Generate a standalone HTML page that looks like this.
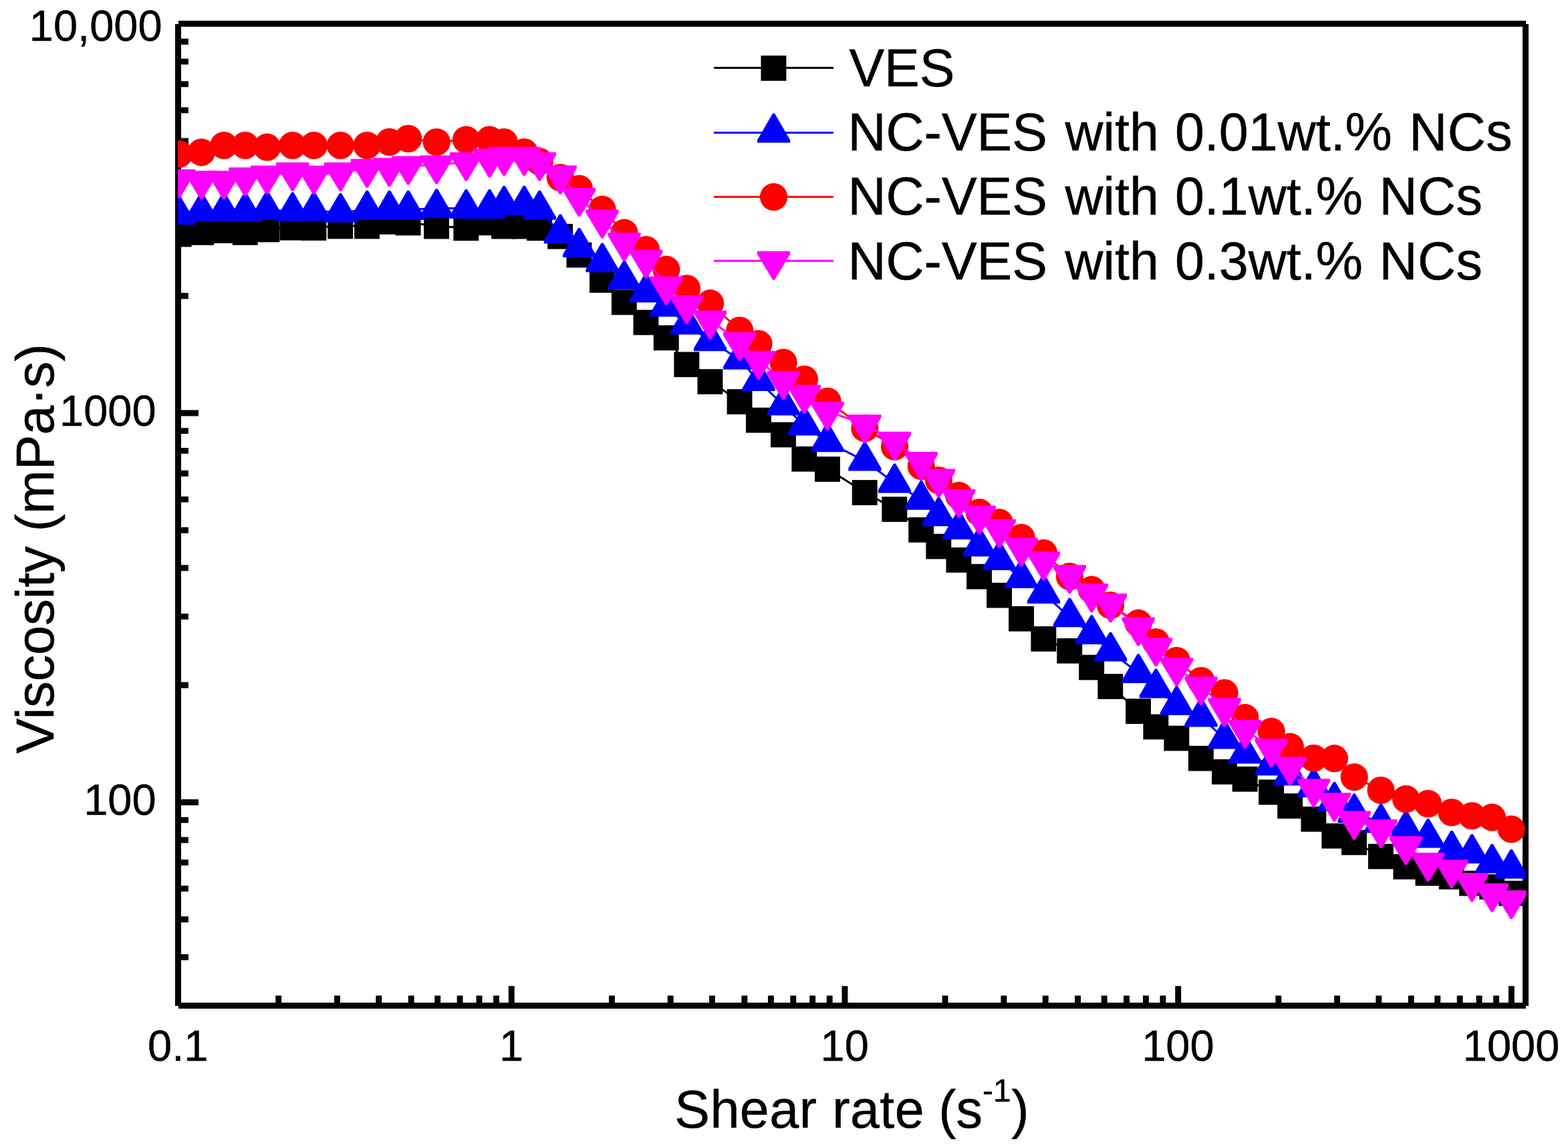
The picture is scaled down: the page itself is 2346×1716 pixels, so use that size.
<!DOCTYPE html>
<html lang="en"><head><meta charset="utf-8"><title>Viscosity vs shear rate</title>
<style>html,body{margin:0;padding:0;background:#fff}body{width:2346px;height:1716px;overflow:hidden}svg{display:block}text{font-family:'Liberation Sans', sans-serif;fill:#000}</style>
</head><body>
<svg width="2346" height="1716" viewBox="0 0 2346 1716" role="img" aria-label="Viscosity versus shear rate">
<rect width="2346" height="1716" fill="#fff"/>
<defs><clipPath id="plot"><rect x="266" y="35.7" width="2017.4" height="1469"/></clipPath></defs>
<g stroke="#000" stroke-width="8.8" fill="none" shape-rendering="crispEdges">
<path d="M266.6 35.7V1504.7 M2282.7 35.7V1504.7 M266.6 35.7H2282.7 M266.6 1504.7H2282.7"/>
</g>
<path d="M416.7 1504.7V1489.4M504.5 1504.7V1489.4M566.8 1504.7V1489.4M615.2 1504.7V1489.4M654.7 1504.7V1489.4M688.1 1504.7V1489.4M717 1504.7V1489.4M742.5 1504.7V1489.4M765.3 1504.7V1475.3M915.4 1504.7V1489.4M1003.2 1504.7V1489.4M1065.5 1504.7V1489.4M1113.9 1504.7V1489.4M1153.4 1504.7V1489.4M1186.8 1504.7V1489.4M1215.7 1504.7V1489.4M1241.2 1504.7V1489.4M1264 1504.7V1475.3M1414.1 1504.7V1489.4M1501.9 1504.7V1489.4M1564.2 1504.7V1489.4M1612.6 1504.7V1489.4M1652.1 1504.7V1489.4M1685.5 1504.7V1489.4M1714.4 1504.7V1489.4M1739.9 1504.7V1489.4M1762.7 1504.7V1475.3M1912.8 1504.7V1489.4M2000.6 1504.7V1489.4M2062.9 1504.7V1489.4M2111.3 1504.7V1489.4M2150.8 1504.7V1489.4M2184.2 1504.7V1489.4M2213.1 1504.7V1489.4M2238.6 1504.7V1489.4M2261.4 1504.7V1475.3M266.6 1432H281.9M266.6 1375.5H281.9M266.6 1329.4H281.9M266.6 1290.4H281.9M266.6 1256.7H281.9M266.6 1226.9H281.9M266.6 1200.2H297M266.6 1025H281.9M266.6 922.4H281.9M266.6 849.7H281.9M266.6 793.3H281.9M266.6 747.1H281.9M266.6 708.2H281.9M266.6 674.4H281.9M266.6 644.6H281.9M266.6 618H297M266.6 442.7H281.9M266.6 340.2H281.9M266.6 267.4H281.9M266.6 211H281.9M266.6 164.9H281.9M266.6 125.9H281.9M266.6 92.1H281.9M266.6 62.3H281.9" stroke="#000" stroke-width="8.9" fill="none"/>
<g font-size="65" stroke="#000" stroke-width="0.5">
<text x="266.3" y="1586.8" text-anchor="middle">0.1</text>
<text x="765" y="1586.8" text-anchor="middle">1</text>
<text x="1263.7" y="1586.8" text-anchor="middle">10</text>
<text x="1762.4" y="1586.8" text-anchor="middle">100</text>
<text x="2261.1" y="1586.8" text-anchor="middle">1000</text>
<text x="242.6" y="60.8" text-anchor="end">10,000</text>
<text x="233.6" y="636.8" text-anchor="end">1000</text>
<text x="233.6" y="1218.7" text-anchor="end">100</text>
</g>
<g font-size="79" stroke="#000" stroke-width="0.5">
<text y="1687"><tspan x="1009.2" letter-spacing="0.5">Shear</tspan> <tspan x="1245.3" letter-spacing="0.4">rate</tspan> <tspan x="1404.2" letter-spacing="0">(s</tspan><tspan x="1470.1" dy="-39.5" font-size="48">-1</tspan><tspan x="1513.2" dy="39.5">)</tspan></text>
<text transform="translate(80.2 821) rotate(-90)" text-anchor="middle">Viscosity (mPa·s)</text>
</g>
<g clip-path="url(#plot)">
<g fill="#000"><polyline points="267.8,350.1 301.4,347.4 335,344.6 366.9,347.4 399.6,343 437.7,340.3 469.6,340.6 509.4,338.1 549.2,338.1 582.6,331.4 610.8,333 653.2,338.2 697.5,340.9 732.5,332.9 754.2,338.2 784.3,338.2 807.3,340.9 838.3,353.3 866.6,381.1 901.1,418.7 934,451.9 966.6,482 996.9,505 1027.5,544.9 1062.6,570.6 1106.7,600.6 1135.1,628.2 1172.1,650 1203.5,686.3 1238.1,701.5 1293.9,736.5 1338.5,761.5 1378.3,792.3 1404.5,817.1 1434.6,837.4 1465.2,862.2 1495.2,890.2 1528.2,925.3 1561.5,955.4 1600.4,973.3 1633.3,998.1 1661.5,1026.6 1703.2,1063.7 1729.5,1087 1760.5,1104.1 1797,1134.2 1832.1,1154.3 1862.8,1165.2 1902.2,1184.7 1930.3,1205.4 1965.5,1225.1 1996.5,1250.2 2026.2,1260 2066.1,1280.9 2103.6,1296.3 2136.7,1306 2172,1311.3 2202.3,1321.1 2232.4,1326.4 2261.2,1336.1" fill="none" stroke="#000" stroke-width="3"/>
<rect x="248.7" y="331.7" width="37.9" height="37.7"/><rect x="282.3" y="329" width="37.9" height="37.7"/><rect x="315.9" y="326.2" width="37.9" height="37.7"/><rect x="347.8" y="329" width="37.9" height="37.7"/><rect x="380.5" y="324.6" width="37.9" height="37.7"/><rect x="418.6" y="321.9" width="37.9" height="37.7"/><rect x="450.5" y="322.2" width="37.9" height="37.7"/><rect x="490.3" y="319.7" width="37.9" height="37.7"/><rect x="530.1" y="319.7" width="37.9" height="37.7"/><rect x="563.5" y="313" width="37.9" height="37.7"/><rect x="591.7" y="314.6" width="37.9" height="37.7"/><rect x="634.1" y="319.8" width="37.9" height="37.7"/><rect x="678.4" y="322.5" width="37.9" height="37.7"/><rect x="713.4" y="314.5" width="37.9" height="37.7"/><rect x="735.1" y="319.8" width="37.9" height="37.7"/><rect x="765.2" y="319.8" width="37.9" height="37.7"/><rect x="788.2" y="322.5" width="37.9" height="37.7"/><rect x="819.2" y="334.9" width="37.9" height="37.7"/><rect x="847.5" y="362.7" width="37.9" height="37.7"/><rect x="882" y="400.3" width="37.9" height="37.7"/><rect x="914.9" y="433.5" width="37.9" height="37.7"/><rect x="947.5" y="463.6" width="37.9" height="37.7"/><rect x="977.8" y="486.6" width="37.9" height="37.7"/><rect x="1008.4" y="526.5" width="37.9" height="37.7"/><rect x="1043.5" y="552.2" width="37.9" height="37.7"/><rect x="1087.6" y="582.2" width="37.9" height="37.7"/><rect x="1116" y="609.8" width="37.9" height="37.7"/><rect x="1153" y="631.6" width="37.9" height="37.7"/><rect x="1184.4" y="667.9" width="37.9" height="37.7"/><rect x="1219" y="683.1" width="37.9" height="37.7"/><rect x="1274.8" y="718.1" width="37.9" height="37.7"/><rect x="1319.4" y="743.1" width="37.9" height="37.7"/><rect x="1359.2" y="773.9" width="37.9" height="37.7"/><rect x="1385.4" y="798.7" width="37.9" height="37.7"/><rect x="1415.5" y="819" width="37.9" height="37.7"/><rect x="1446.1" y="843.8" width="37.9" height="37.7"/><rect x="1476.1" y="871.8" width="37.9" height="37.7"/><rect x="1509.1" y="906.9" width="37.9" height="37.7"/><rect x="1542.4" y="937" width="37.9" height="37.7"/><rect x="1581.3" y="954.9" width="37.9" height="37.7"/><rect x="1614.2" y="979.7" width="37.9" height="37.7"/><rect x="1642.4" y="1008.2" width="37.9" height="37.7"/><rect x="1684.1" y="1045.3" width="37.9" height="37.7"/><rect x="1710.4" y="1068.6" width="37.9" height="37.7"/><rect x="1741.4" y="1085.7" width="37.9" height="37.7"/><rect x="1777.9" y="1115.8" width="37.9" height="37.7"/><rect x="1813" y="1135.9" width="37.9" height="37.7"/><rect x="1843.7" y="1146.8" width="37.9" height="37.7"/><rect x="1883.1" y="1166.3" width="37.9" height="37.7"/><rect x="1911.2" y="1187" width="37.9" height="37.7"/><rect x="1946.4" y="1206.7" width="37.9" height="37.7"/><rect x="1977.4" y="1231.8" width="37.9" height="37.7"/><rect x="2007.1" y="1241.6" width="37.9" height="37.7"/><rect x="2047" y="1262.5" width="37.9" height="37.7"/><rect x="2084.5" y="1277.9" width="37.9" height="37.7"/><rect x="2117.6" y="1287.6" width="37.9" height="37.7"/><rect x="2152.9" y="1292.9" width="37.9" height="37.7"/><rect x="2183.2" y="1302.7" width="37.9" height="37.7"/><rect x="2213.3" y="1308" width="37.9" height="37.7"/><rect x="2242.1" y="1317.7" width="37.9" height="37.7"/>
</g>
<g fill="#00f"><polyline points="267.8,321 301.4,316.3 335,316.3 366.9,316.3 399.6,314.1 437.7,316.3 469.6,315.5 509.4,317.7 549.2,313.9 582.6,313.9 610.8,313.9 653.2,311.2 697.5,312 732.5,312 754.2,306.7 784.3,306.7 807.3,313.8 838.3,349.2 866.6,369.9 901.1,392.3 934,418.5 966.6,437.6 996.9,458.8 1027.5,485.4 1062.6,510.2 1106.7,537.7 1135.1,570.1 1172.1,606.4 1203.5,636.5 1238.1,661.3 1293.9,689.6 1338.5,722.4 1378.3,747.7 1404.5,772.3 1434.6,792.1 1465.2,817.4 1495.2,838.1 1528.2,865.1 1561.5,888.1 1600.4,923.3 1633.3,949 1661.5,974.5 1703.2,1007 1729.5,1029.4 1760.5,1055 1797,1072.6 1832.1,1105.4 1862.8,1127.5 1902.2,1145.2 1930.3,1160.3 1965.5,1177.8 1996.5,1198.6 2026.2,1216 2066.1,1231.1 2103.6,1241.4 2136.7,1253.6 2172,1271.5 2202.3,1276.8 2232.4,1291.5 2261.2,1299.5" fill="none" stroke="#00f" stroke-width="3"/>
<path d="M266.3 292.2L269.3 292.2L292.4 331.8L292.4 336L243.2 336L243.2 331.8Z"/><path d="M299.9 287.5L302.9 287.5L326 327.1L326 331.3L276.8 331.3L276.8 327.1Z"/><path d="M333.5 287.5L336.5 287.5L359.6 327.1L359.6 331.3L310.4 331.3L310.4 327.1Z"/><path d="M365.4 287.5L368.4 287.5L391.5 327.1L391.5 331.3L342.3 331.3L342.3 327.1Z"/><path d="M398.1 285.3L401.1 285.3L424.2 324.9L424.2 329.1L375 329.1L375 324.9Z"/><path d="M436.2 287.5L439.2 287.5L462.3 327.1L462.3 331.3L413.1 331.3L413.1 327.1Z"/><path d="M468.1 286.7L471.1 286.7L494.2 326.3L494.2 330.5L445 330.5L445 326.3Z"/><path d="M507.9 288.9L510.9 288.9L534 328.5L534 332.7L484.8 332.7L484.8 328.5Z"/><path d="M547.7 285.1L550.7 285.1L573.8 324.7L573.8 328.9L524.6 328.9L524.6 324.7Z"/><path d="M581.1 285.1L584.1 285.1L607.2 324.7L607.2 328.9L558 328.9L558 324.7Z"/><path d="M609.3 285.1L612.3 285.1L635.4 324.7L635.4 328.9L586.2 328.9L586.2 324.7Z"/><path d="M651.7 282.4L654.7 282.4L677.8 322L677.8 326.2L628.6 326.2L628.6 322Z"/><path d="M696 283.2L699 283.2L722.1 322.8L722.1 327L672.9 327L672.9 322.8Z"/><path d="M731 283.2L734 283.2L757.1 322.8L757.1 327L707.9 327L707.9 322.8Z"/><path d="M752.7 277.9L755.7 277.9L778.8 317.5L778.8 321.7L729.6 321.7L729.6 317.5Z"/><path d="M782.8 277.9L785.8 277.9L808.9 317.5L808.9 321.7L759.7 321.7L759.7 317.5Z"/><path d="M805.8 285L808.8 285L831.9 324.6L831.9 328.8L782.7 328.8L782.7 324.6Z"/><path d="M836.8 320.4L839.8 320.4L862.9 360L862.9 364.2L813.7 364.2L813.7 360Z"/><path d="M865.1 341.1L868.1 341.1L891.2 380.7L891.2 384.9L842 384.9L842 380.7Z"/><path d="M899.6 363.5L902.6 363.5L925.7 403.1L925.7 407.3L876.5 407.3L876.5 403.1Z"/><path d="M932.5 389.7L935.5 389.7L958.6 429.3L958.6 433.5L909.4 433.5L909.4 429.3Z"/><path d="M965.1 408.8L968.1 408.8L991.2 448.4L991.2 452.6L942 452.6L942 448.4Z"/><path d="M995.4 430L998.4 430L1021.5 469.6L1021.5 473.8L972.3 473.8L972.3 469.6Z"/><path d="M1026 456.6L1029 456.6L1052.1 496.2L1052.1 500.4L1002.9 500.4L1002.9 496.2Z"/><path d="M1061.1 481.4L1064.1 481.4L1087.2 521L1087.2 525.2L1038 525.2L1038 521Z"/><path d="M1105.2 508.9L1108.2 508.9L1131.3 548.5L1131.3 552.7L1082.1 552.7L1082.1 548.5Z"/><path d="M1133.6 541.3L1136.6 541.3L1159.7 580.9L1159.7 585.1L1110.5 585.1L1110.5 580.9Z"/><path d="M1170.6 577.6L1173.6 577.6L1196.7 617.2L1196.7 621.4L1147.5 621.4L1147.5 617.2Z"/><path d="M1202 607.7L1205 607.7L1228.1 647.3L1228.1 651.5L1178.9 651.5L1178.9 647.3Z"/><path d="M1236.6 632.5L1239.6 632.5L1262.7 672.1L1262.7 676.3L1213.5 676.3L1213.5 672.1Z"/><path d="M1292.4 660.8L1295.4 660.8L1318.5 700.4L1318.5 704.6L1269.3 704.6L1269.3 700.4Z"/><path d="M1337 693.6L1340 693.6L1363.1 733.2L1363.1 737.4L1313.9 737.4L1313.9 733.2Z"/><path d="M1376.8 718.9L1379.8 718.9L1402.9 758.5L1402.9 762.7L1353.7 762.7L1353.7 758.5Z"/><path d="M1403 743.5L1406 743.5L1429.1 783.1L1429.1 787.3L1379.9 787.3L1379.9 783.1Z"/><path d="M1433.1 763.3L1436.1 763.3L1459.2 802.9L1459.2 807.1L1410 807.1L1410 802.9Z"/><path d="M1463.7 788.6L1466.7 788.6L1489.8 828.2L1489.8 832.4L1440.6 832.4L1440.6 828.2Z"/><path d="M1493.7 809.3L1496.7 809.3L1519.8 848.9L1519.8 853.1L1470.6 853.1L1470.6 848.9Z"/><path d="M1526.7 836.3L1529.7 836.3L1552.8 875.9L1552.8 880.1L1503.6 880.1L1503.6 875.9Z"/><path d="M1560 859.3L1563 859.3L1586.1 898.9L1586.1 903.1L1536.9 903.1L1536.9 898.9Z"/><path d="M1598.9 894.5L1601.9 894.5L1625 934.1L1625 938.3L1575.8 938.3L1575.8 934.1Z"/><path d="M1631.8 920.2L1634.8 920.2L1657.9 959.8L1657.9 964L1608.7 964L1608.7 959.8Z"/><path d="M1660 945.7L1663 945.7L1686.1 985.3L1686.1 989.5L1636.9 989.5L1636.9 985.3Z"/><path d="M1701.7 978.2L1704.7 978.2L1727.8 1017.8L1727.8 1022L1678.6 1022L1678.6 1017.8Z"/><path d="M1728 1000.6L1731 1000.6L1754.1 1040.2L1754.1 1044.4L1704.9 1044.4L1704.9 1040.2Z"/><path d="M1759 1026.2L1762 1026.2L1785.1 1065.8L1785.1 1070L1735.9 1070L1735.9 1065.8Z"/><path d="M1795.5 1043.8L1798.5 1043.8L1821.6 1083.4L1821.6 1087.6L1772.4 1087.6L1772.4 1083.4Z"/><path d="M1830.6 1076.6L1833.6 1076.6L1856.7 1116.2L1856.7 1120.4L1807.5 1120.4L1807.5 1116.2Z"/><path d="M1861.3 1098.7L1864.3 1098.7L1887.4 1138.3L1887.4 1142.5L1838.2 1142.5L1838.2 1138.3Z"/><path d="M1900.7 1116.4L1903.7 1116.4L1926.8 1156L1926.8 1160.2L1877.6 1160.2L1877.6 1156Z"/><path d="M1928.8 1131.5L1931.8 1131.5L1954.9 1171.1L1954.9 1175.3L1905.7 1175.3L1905.7 1171.1Z"/><path d="M1964 1149L1967 1149L1990.1 1188.6L1990.1 1192.8L1940.9 1192.8L1940.9 1188.6Z"/><path d="M1995 1169.8L1998 1169.8L2021.1 1209.4L2021.1 1213.6L1971.9 1213.6L1971.9 1209.4Z"/><path d="M2024.7 1187.2L2027.7 1187.2L2050.8 1226.8L2050.8 1231L2001.6 1231L2001.6 1226.8Z"/><path d="M2064.6 1202.3L2067.6 1202.3L2090.7 1241.9L2090.7 1246.1L2041.5 1246.1L2041.5 1241.9Z"/><path d="M2102.1 1212.6L2105.1 1212.6L2128.2 1252.2L2128.2 1256.4L2079 1256.4L2079 1252.2Z"/><path d="M2135.2 1224.8L2138.2 1224.8L2161.3 1264.4L2161.3 1268.6L2112.1 1268.6L2112.1 1264.4Z"/><path d="M2170.5 1242.7L2173.5 1242.7L2196.6 1282.3L2196.6 1286.5L2147.4 1286.5L2147.4 1282.3Z"/><path d="M2200.8 1248L2203.8 1248L2226.9 1287.6L2226.9 1291.8L2177.7 1291.8L2177.7 1287.6Z"/><path d="M2230.9 1262.7L2233.9 1262.7L2257 1302.3L2257 1306.5L2207.8 1306.5L2207.8 1302.3Z"/><path d="M2259.7 1270.7L2262.7 1270.7L2285.8 1310.3L2285.8 1314.5L2236.6 1314.5L2236.6 1310.3Z"/>
</g>
<g fill="#f00"><polyline points="267.8,230.5 301.4,227.8 335,217.5 366.9,217.5 399.6,220.2 437.7,217.5 469.6,217.5 509.4,217.5 549.2,217.5 582.6,212.4 610.8,207.4 653.2,212.5 697.5,209 732.5,209 754.2,212.5 784.3,227.5 807.3,241.7 838.3,265.6 866.6,282.4 901.1,313.4 934,348.2 966.6,373.5 996.9,403.2 1027.5,431.6 1062.6,453.7 1106.7,494.4 1135.1,514.3 1172.1,542.4 1203.5,567.3 1238.1,600.4 1293.9,640.8 1338.5,668.3 1378.3,697.5 1404.5,718.6 1434.6,741.4 1465.2,766.6 1495.2,781.7 1528.2,804.3 1561.5,827.4 1600.4,862.4 1633.3,882.2 1661.5,905.5 1703.2,932.2 1729.5,960.5 1760.5,988.3 1797,1018.4 1832.1,1036.5 1862.8,1073.7 1902.2,1094.4 1930.3,1117.2 1965.5,1134.3 1996.5,1134.7 2026.2,1162.5 2066.1,1182.3 2103.6,1195.4 2136.7,1202.4 2172,1215.4 2202.3,1220.5 2232.4,1222.8 2261.2,1240.5" fill="none" stroke="#f00" stroke-width="3"/>
<circle cx="267.8" cy="230.5" r="20.6"/><circle cx="301.4" cy="227.8" r="20.6"/><circle cx="335" cy="217.5" r="20.6"/><circle cx="366.9" cy="217.5" r="20.6"/><circle cx="399.6" cy="220.2" r="20.6"/><circle cx="437.7" cy="217.5" r="20.6"/><circle cx="469.6" cy="217.5" r="20.6"/><circle cx="509.4" cy="217.5" r="20.6"/><circle cx="549.2" cy="217.5" r="20.6"/><circle cx="582.6" cy="212.4" r="20.6"/><circle cx="610.8" cy="207.4" r="20.6"/><circle cx="653.2" cy="212.5" r="20.6"/><circle cx="697.5" cy="209" r="20.6"/><circle cx="732.5" cy="209" r="20.6"/><circle cx="754.2" cy="212.5" r="20.6"/><circle cx="784.3" cy="227.5" r="20.6"/><circle cx="807.3" cy="241.7" r="20.6"/><circle cx="838.3" cy="265.6" r="20.6"/><circle cx="866.6" cy="282.4" r="20.6"/><circle cx="901.1" cy="313.4" r="20.6"/><circle cx="934" cy="348.2" r="20.6"/><circle cx="966.6" cy="373.5" r="20.6"/><circle cx="996.9" cy="403.2" r="20.6"/><circle cx="1027.5" cy="431.6" r="20.6"/><circle cx="1062.6" cy="453.7" r="20.6"/><circle cx="1106.7" cy="494.4" r="20.6"/><circle cx="1135.1" cy="514.3" r="20.6"/><circle cx="1172.1" cy="542.4" r="20.6"/><circle cx="1203.5" cy="567.3" r="20.6"/><circle cx="1238.1" cy="600.4" r="20.6"/><circle cx="1293.9" cy="640.8" r="20.6"/><circle cx="1338.5" cy="668.3" r="20.6"/><circle cx="1378.3" cy="697.5" r="20.6"/><circle cx="1404.5" cy="718.6" r="20.6"/><circle cx="1434.6" cy="741.4" r="20.6"/><circle cx="1465.2" cy="766.6" r="20.6"/><circle cx="1495.2" cy="781.7" r="20.6"/><circle cx="1528.2" cy="804.3" r="20.6"/><circle cx="1561.5" cy="827.4" r="20.6"/><circle cx="1600.4" cy="862.4" r="20.6"/><circle cx="1633.3" cy="882.2" r="20.6"/><circle cx="1661.5" cy="905.5" r="20.6"/><circle cx="1703.2" cy="932.2" r="20.6"/><circle cx="1729.5" cy="960.5" r="20.6"/><circle cx="1760.5" cy="988.3" r="20.6"/><circle cx="1797" cy="1018.4" r="20.6"/><circle cx="1832.1" cy="1036.5" r="20.6"/><circle cx="1862.8" cy="1073.7" r="20.6"/><circle cx="1902.2" cy="1094.4" r="20.6"/><circle cx="1930.3" cy="1117.2" r="20.6"/><circle cx="1965.5" cy="1134.3" r="20.6"/><circle cx="1996.5" cy="1134.7" r="20.6"/><circle cx="2026.2" cy="1162.5" r="20.6"/><circle cx="2066.1" cy="1182.3" r="20.6"/><circle cx="2103.6" cy="1195.4" r="20.6"/><circle cx="2136.7" cy="1202.4" r="20.6"/><circle cx="2172" cy="1215.4" r="20.6"/><circle cx="2202.3" cy="1220.5" r="20.6"/><circle cx="2232.4" cy="1222.8" r="20.6"/><circle cx="2261.2" cy="1240.5" r="20.6"/>
</g>
<g fill="#f0f"><polyline points="267.8,267.8 301.4,270 335,270 366.9,265 399.6,262.3 437.7,257.4 469.6,262.3 509.4,257.4 549.2,252.2 582.6,250.7 610.8,247.9 653.2,247 697.5,242.2 732.5,236.9 754.2,234.3 784.3,234.3 807.3,242.2 838.3,262.1 866.6,295.4 901.1,327.9 934,362.5 966.6,388.1 996.9,428.1 1027.5,456.2 1062.6,479.1 1106.7,511.5 1135.1,539.3 1172.1,569.5 1203.5,590.3 1238.1,615.4 1293.9,634.8 1338.5,660.3 1378.3,690.5 1404.5,716.1 1434.6,746.2 1465.2,771 1495.2,791.3 1528.2,819.1 1561.5,839.8 1600.4,859.7 1633.3,887.6 1661.5,902.6 1703.2,938 1729.5,968.4 1760.5,998.4 1797,1026.4 1832.1,1058.8 1862.8,1091.4 1902.2,1119.4 1930.3,1146.8 1965.5,1179.4 1996.5,1200.6 2026.2,1227.8 2066.1,1240.3 2103.6,1265.5 2136.7,1290.3 2172,1300.5 2202.3,1320.4 2232.4,1336 2261.2,1346.4" fill="none" stroke="#f0f" stroke-width="3"/>
<path d="M266.3 296.4L269.3 296.4L292.4 257.8L292.4 253.3L243.2 253.3L243.2 257.8Z"/><path d="M299.9 298.6L302.9 298.6L326 260L326 255.5L276.8 255.5L276.8 260Z"/><path d="M333.5 298.6L336.5 298.6L359.6 260L359.6 255.5L310.4 255.5L310.4 260Z"/><path d="M365.4 293.6L368.4 293.6L391.5 255L391.5 250.5L342.3 250.5L342.3 255Z"/><path d="M398.1 290.9L401.1 290.9L424.2 252.3L424.2 247.8L375 247.8L375 252.3Z"/><path d="M436.2 286L439.2 286L462.3 247.4L462.3 242.9L413.1 242.9L413.1 247.4Z"/><path d="M468.1 290.9L471.1 290.9L494.2 252.3L494.2 247.8L445 247.8L445 252.3Z"/><path d="M507.9 286L510.9 286L534 247.4L534 242.9L484.8 242.9L484.8 247.4Z"/><path d="M547.7 280.8L550.7 280.8L573.8 242.2L573.8 237.7L524.6 237.7L524.6 242.2Z"/><path d="M581.1 279.3L584.1 279.3L607.2 240.7L607.2 236.2L558 236.2L558 240.7Z"/><path d="M609.3 276.5L612.3 276.5L635.4 237.9L635.4 233.4L586.2 233.4L586.2 237.9Z"/><path d="M651.7 275.6L654.7 275.6L677.8 237L677.8 232.5L628.6 232.5L628.6 237Z"/><path d="M696 270.8L699 270.8L722.1 232.2L722.1 227.7L672.9 227.7L672.9 232.2Z"/><path d="M731 265.5L734 265.5L757.1 226.9L757.1 222.4L707.9 222.4L707.9 226.9Z"/><path d="M752.7 262.9L755.7 262.9L778.8 224.3L778.8 219.8L729.6 219.8L729.6 224.3Z"/><path d="M782.8 262.9L785.8 262.9L808.9 224.3L808.9 219.8L759.7 219.8L759.7 224.3Z"/><path d="M805.8 270.8L808.8 270.8L831.9 232.2L831.9 227.7L782.7 227.7L782.7 232.2Z"/><path d="M836.8 290.7L839.8 290.7L862.9 252.1L862.9 247.6L813.7 247.6L813.7 252.1Z"/><path d="M865.1 324L868.1 324L891.2 285.4L891.2 280.9L842 280.9L842 285.4Z"/><path d="M899.6 356.5L902.6 356.5L925.7 317.9L925.7 313.4L876.5 313.4L876.5 317.9Z"/><path d="M932.5 391.1L935.5 391.1L958.6 352.5L958.6 348L909.4 348L909.4 352.5Z"/><path d="M965.1 416.7L968.1 416.7L991.2 378.1L991.2 373.6L942 373.6L942 378.1Z"/><path d="M995.4 456.7L998.4 456.7L1021.5 418.1L1021.5 413.6L972.3 413.6L972.3 418.1Z"/><path d="M1026 484.8L1029 484.8L1052.1 446.2L1052.1 441.7L1002.9 441.7L1002.9 446.2Z"/><path d="M1061.1 507.7L1064.1 507.7L1087.2 469.1L1087.2 464.6L1038 464.6L1038 469.1Z"/><path d="M1105.2 540.1L1108.2 540.1L1131.3 501.5L1131.3 497L1082.1 497L1082.1 501.5Z"/><path d="M1133.6 567.9L1136.6 567.9L1159.7 529.3L1159.7 524.8L1110.5 524.8L1110.5 529.3Z"/><path d="M1170.6 598.1L1173.6 598.1L1196.7 559.5L1196.7 555L1147.5 555L1147.5 559.5Z"/><path d="M1202 618.9L1205 618.9L1228.1 580.3L1228.1 575.8L1178.9 575.8L1178.9 580.3Z"/><path d="M1236.6 644L1239.6 644L1262.7 605.4L1262.7 600.9L1213.5 600.9L1213.5 605.4Z"/><path d="M1292.4 663.4L1295.4 663.4L1318.5 624.8L1318.5 620.3L1269.3 620.3L1269.3 624.8Z"/><path d="M1337 688.9L1340 688.9L1363.1 650.3L1363.1 645.8L1313.9 645.8L1313.9 650.3Z"/><path d="M1376.8 719.1L1379.8 719.1L1402.9 680.5L1402.9 676L1353.7 676L1353.7 680.5Z"/><path d="M1403 744.7L1406 744.7L1429.1 706.1L1429.1 701.6L1379.9 701.6L1379.9 706.1Z"/><path d="M1433.1 774.8L1436.1 774.8L1459.2 736.2L1459.2 731.7L1410 731.7L1410 736.2Z"/><path d="M1463.7 799.6L1466.7 799.6L1489.8 761L1489.8 756.5L1440.6 756.5L1440.6 761Z"/><path d="M1493.7 819.9L1496.7 819.9L1519.8 781.3L1519.8 776.8L1470.6 776.8L1470.6 781.3Z"/><path d="M1526.7 847.7L1529.7 847.7L1552.8 809.1L1552.8 804.6L1503.6 804.6L1503.6 809.1Z"/><path d="M1560 868.4L1563 868.4L1586.1 829.8L1586.1 825.3L1536.9 825.3L1536.9 829.8Z"/><path d="M1598.9 888.3L1601.9 888.3L1625 849.7L1625 845.2L1575.8 845.2L1575.8 849.7Z"/><path d="M1631.8 916.2L1634.8 916.2L1657.9 877.6L1657.9 873.1L1608.7 873.1L1608.7 877.6Z"/><path d="M1660 931.2L1663 931.2L1686.1 892.6L1686.1 888.1L1636.9 888.1L1636.9 892.6Z"/><path d="M1701.7 966.6L1704.7 966.6L1727.8 928L1727.8 923.5L1678.6 923.5L1678.6 928Z"/><path d="M1728 997L1731 997L1754.1 958.4L1754.1 953.9L1704.9 953.9L1704.9 958.4Z"/><path d="M1759 1027L1762 1027L1785.1 988.4L1785.1 983.9L1735.9 983.9L1735.9 988.4Z"/><path d="M1795.5 1055L1798.5 1055L1821.6 1016.4L1821.6 1011.9L1772.4 1011.9L1772.4 1016.4Z"/><path d="M1830.6 1087.4L1833.6 1087.4L1856.7 1048.8L1856.7 1044.3L1807.5 1044.3L1807.5 1048.8Z"/><path d="M1861.3 1120L1864.3 1120L1887.4 1081.4L1887.4 1076.9L1838.2 1076.9L1838.2 1081.4Z"/><path d="M1900.7 1148L1903.7 1148L1926.8 1109.4L1926.8 1104.9L1877.6 1104.9L1877.6 1109.4Z"/><path d="M1928.8 1175.4L1931.8 1175.4L1954.9 1136.8L1954.9 1132.3L1905.7 1132.3L1905.7 1136.8Z"/><path d="M1964 1208L1967 1208L1990.1 1169.4L1990.1 1164.9L1940.9 1164.9L1940.9 1169.4Z"/><path d="M1995 1229.2L1998 1229.2L2021.1 1190.6L2021.1 1186.1L1971.9 1186.1L1971.9 1190.6Z"/><path d="M2024.7 1256.4L2027.7 1256.4L2050.8 1217.8L2050.8 1213.3L2001.6 1213.3L2001.6 1217.8Z"/><path d="M2064.6 1268.9L2067.6 1268.9L2090.7 1230.3L2090.7 1225.8L2041.5 1225.8L2041.5 1230.3Z"/><path d="M2102.1 1294.1L2105.1 1294.1L2128.2 1255.5L2128.2 1251L2079 1251L2079 1255.5Z"/><path d="M2135.2 1318.9L2138.2 1318.9L2161.3 1280.3L2161.3 1275.8L2112.1 1275.8L2112.1 1280.3Z"/><path d="M2170.5 1329.1L2173.5 1329.1L2196.6 1290.5L2196.6 1286L2147.4 1286L2147.4 1290.5Z"/><path d="M2200.8 1349L2203.8 1349L2226.9 1310.4L2226.9 1305.9L2177.7 1305.9L2177.7 1310.4Z"/><path d="M2230.9 1364.6L2233.9 1364.6L2257 1326L2257 1321.5L2207.8 1321.5L2207.8 1326Z"/><path d="M2259.7 1375L2262.7 1375L2285.8 1336.4L2285.8 1331.9L2236.6 1331.9L2236.6 1336.4Z"/>
</g>
</g>
<g font-size="79">
<g fill="#000"><path d="M1068 101.6H1247" stroke="#000" stroke-width="3"/><rect x="1138.5" y="83.2" width="37.9" height="37.7"/></g>
<text y="128.8" stroke="#000" stroke-width="0.5"><tspan x="1270.4">VES</tspan></text>
<g fill="#00f"><path d="M1068 198.6H1247" stroke="#00f" stroke-width="3"/><path d="M1156.1 169.8L1159.1 169.8L1182.2 209.4L1182.2 213.6L1133 213.6L1133 209.4Z"/></g>
<text y="224.5" stroke="#000" stroke-width="0.5"><tspan x="1268.5">NC-VES</tspan> <tspan x="1593.4">with</tspan> <tspan x="1757.9">0.01wt.%</tspan> <tspan x="2108.2" letter-spacing="0.5">NCs</tspan></text>
<g fill="#f00"><path d="M1068 294.6H1247" stroke="#f00" stroke-width="3"/><circle cx="1157.6" cy="294.6" r="20.6"/></g>
<text y="320.7" stroke="#000" stroke-width="0.5"><tspan x="1268.5">NC-VES</tspan> <tspan x="1593.4">with</tspan> <tspan x="1757.9">0.1wt.%</tspan> <tspan x="2063.5" letter-spacing="0.5">NCs</tspan></text>
<g fill="#f0f"><path d="M1068 390.2H1247" stroke="#f0f" stroke-width="3"/><path d="M1156.1 418.8L1159.1 418.8L1182.2 380.2L1182.2 375.7L1133 375.7L1133 380.2Z"/></g>
<text y="417.9" stroke="#000" stroke-width="0.5"><tspan x="1268.5">NC-VES</tspan> <tspan x="1593.4">with</tspan> <tspan x="1757.9">0.3wt.%</tspan> <tspan x="2063.5" letter-spacing="0.5">NCs</tspan></text>
</g>
</svg>
</body></html>
